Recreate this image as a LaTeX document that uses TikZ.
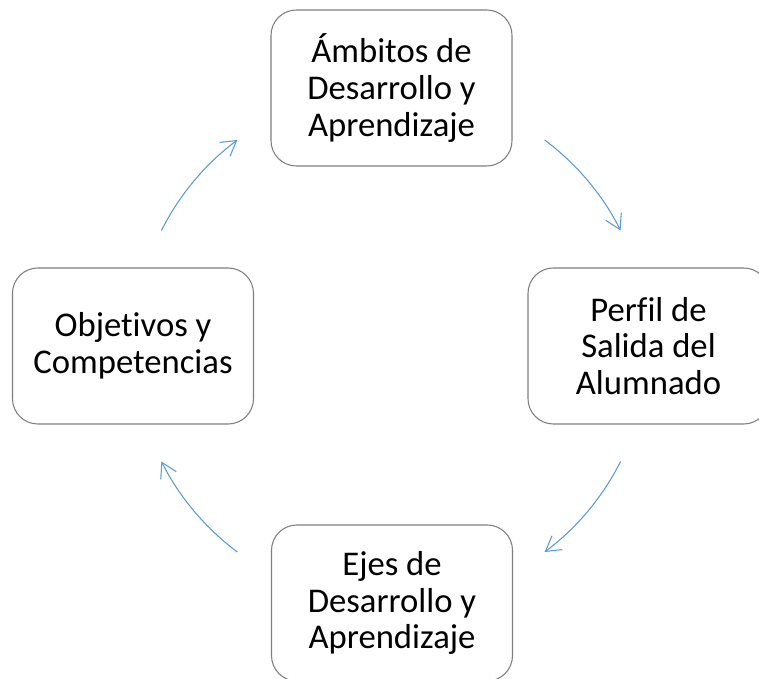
\documentclass[tikz,border=0pt]{standalone}
\usepackage{fontspec}
\setmainfont[Ligatures={NoCommon}]{Carlito}
\usetikzlibrary{arrows.meta}
\definecolor{boxline}{HTML}{7F7F7F}
\definecolor{arrowblue}{HTML}{5B9BD5}
\tikzset{
  cyclebox/.style={draw=boxline, line width=0.8pt, rounded corners=19pt,
    minimum width=180.75pt, minimum height=117pt, inner sep=0pt,
    align=center, font=\fontsize{26}{27.5}\selectfont, fill=white},
  cyclearrow/.style={draw=arrowblue, line width=0.8pt,
    -{Straight Barb[length=11pt,width=13pt]}}
}
\begin{document}
\begin{tikzpicture}[x=0.75pt,y=0.75pt]
\useasboundingbox (0,0) rectangle (759,678);
\node[cyclebox] (top) at (391.5,590) {Ámbitos de\\Desarrollo y\\Aprendizaje};
\node[cyclebox] (right) at (648.5,332) {Perf\kern0pt il de\\Salida del\\Alumnado};
\node[cyclebox] (bottom) at (392,75) {Ejes de\\Desarrollo y\\Aprendizaje};
\node[cyclebox] (left) at (133,332) {Objetivos y\\Competencias};
\coordinate (c) at (391,332);
\draw[cyclearrow] (c) ++(153.3:192.75pt) arc[start angle=153.3,end angle=126.7,radius=192.75pt];
\draw[cyclearrow] (c) ++(53.3:192.75pt) arc[start angle=53.3,end angle=26.7,radius=192.75pt];
\draw[cyclearrow] (c) ++(-26.7:192.75pt) arc[start angle=-26.7,end angle=-53.3,radius=192.75pt];
\draw[cyclearrow] (c) ++(-126.7:192.75pt) arc[start angle=-126.7,end angle=-153.3,radius=192.75pt];
\end{tikzpicture}
\end{document}
